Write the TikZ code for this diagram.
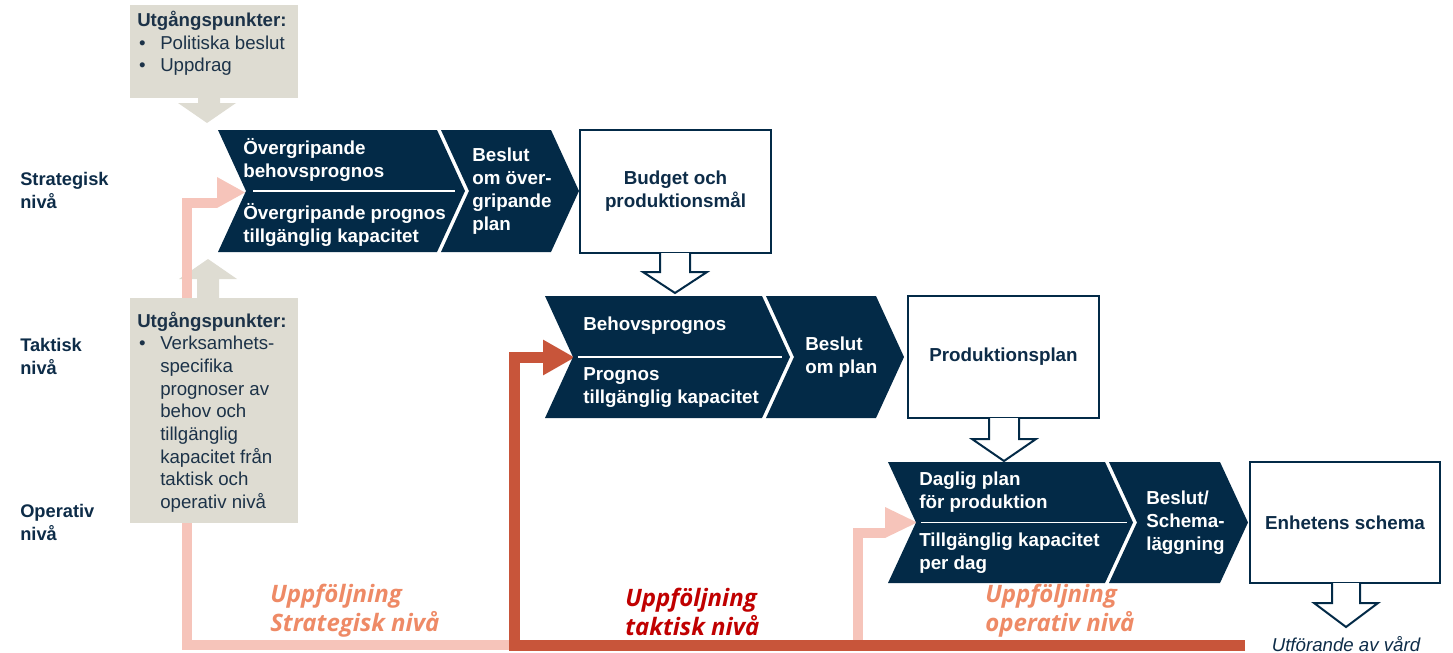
\documentclass[tikz,border=0pt]{standalone}
\usepackage{fontspec}
\setmainfont{Liberation Sans}
\newfontfamily\osans{Open Sans}
\usetikzlibrary{arrows.meta}
\definecolor{navy}{HTML}{032A47}
\definecolor{navytext}{HTML}{0D2C48}
\definecolor{beigetext}{HTML}{1C3248}
\definecolor{beige}{HTML}{DEDCD2}
\definecolor{pinkline}{HTML}{F6C4BA}
\definecolor{redline}{HTML}{C8553A}
\definecolor{salmon}{HTML}{EE8A66}
\definecolor{darkred}{HTML}{C00000}
\begin{document}
\begin{tikzpicture}[x=0.75pt,y=-0.75pt,
  chev/.style={fill=navy},
  wtxt/.style={text=white,font=\bfseries\fontsize{14.1}{17.25}\selectfont,align=left,inner sep=0pt,anchor=west},
  ntxt/.style={text=navytext,font=\bfseries\fontsize{14.1}{17.25}\selectfont,align=center},
  lvl/.style={text=navytext,font=\bfseries\fontsize{13.7}{17.25}\selectfont,align=left,inner sep=0pt,anchor=west},
  btxt/.style={text=beigetext,font=\fontsize{14}{17}\selectfont,align=left,inner sep=0pt,anchor=west},
  outbox/.style={draw=navy,line width=1.5pt,fill=white,inner sep=0pt},
  beigebox/.style={fill=beige,inner sep=0pt},
  hollow/.style={draw=navy,line width=1.5pt,fill=white,line join=miter},
  sepline/.style={draw=white,line width=0.8pt},
  uf/.style={font=\osans\bfseries\itshape\fontsize{18}{21.5}\selectfont,align=left,inner sep=0pt,anchor=west},
  pinkpath/.style={draw=pinkline,line width=7.5pt,line join=miter},
  redpath/.style={draw=redline,line width=8.25pt,line join=miter,-{Triangle[length=24pt,width=25pt]}},
]
\useasboundingbox (0,0) rectangle (1453,653);

% ---------- beige arrows ----------
\fill[beige] (198,97) -- (198,103) -- (178,103) -- (207,123) -- (236,103) -- (220,103) -- (220,97) -- cycle;
\fill[beige] (197,299) -- (197,279) -- (179,279) -- (208,259) -- (237,279) -- (219,279) -- (219,299) -- cycle;

% ---------- feedback coordinates ----------
\coordinate (sStart) at (509,645);
\coordinate (sCorner1) at (187,645);
\coordinate (sCorner2) at (187,202.5);
\coordinate (sEnd) at (217,202.5);
\coordinate (oStart) at (858,645);
\coordinate (oCorner) at (858,532.5);
\coordinate (oEnd) at (885,532.5);
\coordinate (rStart) at (1245,645);
\coordinate (rCorner1) at (514,645);
\coordinate (rCorner2) at (514,357.5);
\coordinate (rEnd) at (575,357.5);

% pink strategic
\draw[pinkpath] (sStart) -- (sCorner1) -- (sCorner2) -- (sEnd);
\fill[pinkline] (217,177) -- (245,192.5) -- (217,208) -- cycle;
% pink operative
\draw[pinkpath] (oStart) -- (oCorner) -- (oEnd);
\fill[pinkline] (885,507) -- (917,522.5) -- (885,538) -- cycle;
% red tactical
\draw[redpath] (rStart) -- (rCorner1) -- (rCorner2) -- (rEnd);

% ---------- beige boxes ----------
\node[beigebox,minimum width=126pt,minimum height=69.75pt] (ub1) at (214,51.5) {};
\node[beigebox,minimum width=126pt,minimum height=168.75pt] (ub2) at (214,410.5) {};
\node[btxt] (ub1t) at (137,43.5) {\textbf{Utgångspunkter:}\\\makebox[7.5pt]{•}\hspace{9.75pt}Politiska beslut\\\makebox[7.5pt]{•}\hspace{9.75pt}Uppdrag};
\node[btxt] (ub2t) at (137,412) {\textbf{Utgångspunkter:}\\\makebox[7.5pt]{•}\hspace{9.75pt}Verksamhets-\\\hspace{17.25pt}specifika\\\hspace{17.25pt}prognoser av\\\hspace{17.25pt}behov och\\\hspace{17.25pt}tillgänglig\\\hspace{17.25pt}kapacitet från\\\hspace{17.25pt}taktisk och\\\hspace{17.25pt}operativ nivå};

% ---------- level labels ----------
\node[lvl] (lvS) at (20,190.5) {Strategisk\\nivå};
\node[lvl] (lvT) at (20,356.5) {Taktisk\\nivå};
\node[lvl] (lvO) at (20,522) {Operativ\\nivå};

% ---------- row 1 ----------
\fill[chev] (218,130) -- (437,130) -- (465,191) -- (437,252) -- (218,252) -- (246,191) -- cycle;
\fill[chev] (441,130) -- (551,130) -- (579,191) -- (551,252) -- (441,252) -- (469,191) -- cycle;
\draw[sepline] (253,191) -- (455,191);
\node[wtxt] (c1a) at (243,160) {Övergripande\\behovsprognos};
\node[wtxt] (c1b) at (243,224.5) {Övergripande prognos\\tillgänglig kapacitet};
\node[wtxt] (c2) at (472,191.5) {Beslut\\om över-\\gripande\\plan};
\node[outbox,ntxt,minimum width=143.25pt,minimum height=92.25pt] (budget) at (675.5,191.5) {Budget och\\produktionsmål};

\filldraw[hollow] (660,253) -- (660,272) -- (643,272) -- (675,293) -- (707,272) -- (690,272) -- (690,253);

% ---------- row 2 ----------
\fill[chev] (545,296) -- (762,296) -- (790,357) -- (762,418) -- (545,418) -- (573,357) -- cycle;
\fill[chev] (766,296) -- (876,296) -- (904,357) -- (876,418) -- (766,418) -- (794,357) -- cycle;
\draw[sepline] (578,357) -- (782,357);
\node[wtxt] (c3a) at (583,326) {Behovsprognos};
\node[wtxt] (c3b) at (583,388) {Prognos\\tillgänglig kapacitet};
\node[wtxt] (c4) at (805,357) {Beslut\\om plan};
\node[outbox,ntxt,minimum width=143.25pt,minimum height=91.5pt] (prod) at (1003.5,357) {Produktionsplan};

\filldraw[hollow] (989,418) -- (989,439) -- (972,439) -- (1004,461) -- (1036,439) -- (1019,439) -- (1019,418);

% ---------- row 3 ----------
\fill[chev] (888,462) -- (1105,462) -- (1133,522.5) -- (1105,583) -- (888,583) -- (916,522.5) -- cycle;
\fill[chev] (1109,462) -- (1220,462) -- (1248,522.5) -- (1220,583) -- (1109,583) -- (1137,522.5) -- cycle;
\draw[sepline] (921,522.5) -- (1127,522.5);
\node[wtxt] (c5a) at (919,492) {Daglig plan\\för produktion};
\node[wtxt] (c5b) at (919,553) {Tillgänglig kapacitet\\per dag};
\node[wtxt] (c6) at (1146,523) {Beslut/\\Schema-\\läggning};
\node[outbox,ntxt,minimum width=142.5pt,minimum height=90.75pt] (schema) at (1345,522.5) {Enhetens schema};

\filldraw[hollow] (1332,583) -- (1332,603) -- (1314,603) -- (1346,627) -- (1378,603) -- (1360,603) -- (1360,583);
\node[text=navytext,font=\itshape\fontsize{14}{16}\selectfont,inner sep=0pt] (vard) at (1346,644) {Utförande av vård};

% ---------- follow-up labels ----------
\node[uf,text=salmon] (ufS) at (270,611) {Uppföljning\\Strategisk nivå};
\node[uf,text=darkred] (ufT) at (625,612) {Uppföljning\\taktisk nivå};
\node[uf,text=salmon] (ufO) at (985,611) {Uppföljning\\operativ nivå};
\end{tikzpicture}
\end{document}
